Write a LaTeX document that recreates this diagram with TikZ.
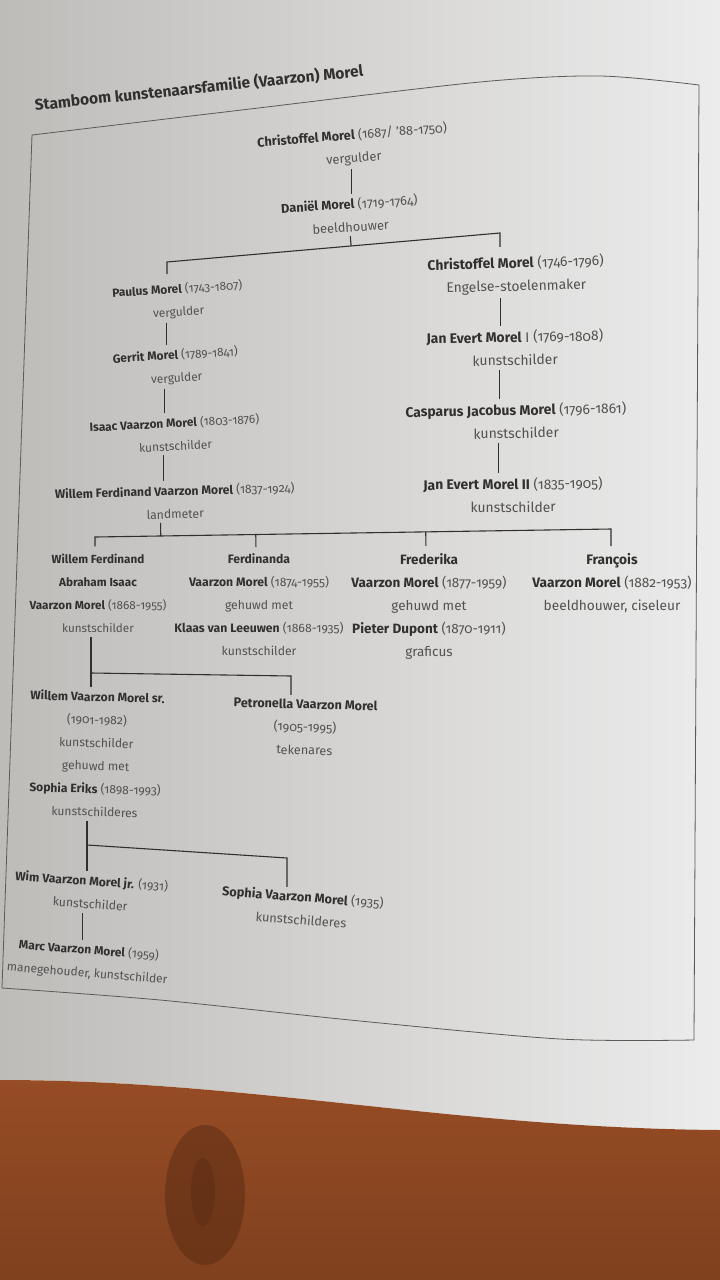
\documentclass[tikz,border=0pt]{standalone}
\usepackage{fontspec}
\setmainfont{Fira Sans}[Numbers=OldStyle]
\usetikzlibrary{calc}
\definecolor{pagegray}{RGB}{190,188,185}
\definecolor{pagemid}{RGB}{204,202,199}
\definecolor{pagewhite}{RGB}{236,236,236}
\definecolor{boxgray}{RGB}{92,90,88}
\definecolor{inkdark}{RGB}{50,48,46}
\definecolor{inkgray}{RGB}{84,82,80}
\definecolor{woodbrown}{RGB}{150,76,36}
\definecolor{wooddark}{RGB}{92,44,20}
\newcommand{\pname}[1]{{\color{inkdark}\bfseries #1}}
\tikzset{
  person/.style={align=center, text=inkgray, inner sep=4pt,
    font=\fontsize{#1}{23}\selectfont},
  person/.default=12.5,
  heading/.style={text=inkdark, inner sep=2pt, font=\fontsize{15.5}{18}\selectfont\bfseries},
  tree/.style={draw=inkdark, line width=1.1pt},
}

\begin{document}
\begin{tikzpicture}[x=1pt,y=-1pt]
  \useasboundingbox (0,0) rectangle (720,1280);
  % page, table
  \shade[left color=pagegray, middle color=pagemid, right color=pagewhite]
    (0,0) -- (720,0) -- (720,1130) .. controls (450,1128) and (250,1080) .. (0,1080) -- cycle;
  \shade[top color=woodbrown, bottom color=woodbrown!85!black]
    (0,1280) -- (0,1080) .. controls (250,1080) and (450,1128) .. (720,1130) -- (720,1280) -- cycle;
  \fill[wooddark, opacity=.55] (205,1195) ellipse [x radius=40, y radius=70];
  \fill[wooddark, opacity=.5] (203,1192) ellipse [x radius=12, y radius=34];
  \draw[boxgray, line width=.8pt]
    plot[smooth] coordinates {(32,135) (250,109) (480,82) (600,76) (699,85)}
    -- plot[smooth] coordinates {(694,1040) (560,1039) (360,1021) (160,1000) (2,988)} -- cycle;

  \node[heading, rotate=6] (title) at (199,88) {Stamboom kunstenaarsfamilie (Vaarzon) Morel};

  \node[person=12.8, rotate=4.5] (c1) at (353,147) {\pname{Christoffel Morel} (1687/ ’88-1750)\\vergulder};
  \node[person=12.8, rotate=3.5] (dan) at (350,215) {\pname{Daniël Morel} (1719-1764)\\beeldhouwer};
  \node[person=11.9, rotate=3.5] (paulus) at (178,301) {\pname{Paulus Morel} (1743-1807)\\vergulder};
  \node[person=11.9, rotate=3.5] (gerrit) at (176,367) {\pname{Gerrit Morel} (1789-1841)\\vergulder};
  \node[person=11.9, rotate=3] (isaac) at (175,434) {\pname{Isaac Vaarzon Morel} (1803-1876)\\kunstschilder};
  \node[person=12.2, rotate=1.5] (wfvm) at (175,502) {\pname{Willem Ferdinand Vaarzon Morel} (1837-1924)\\landmeter};
  \node[person=13.9, rotate=1.5] (chr2) at (516,275) {\pname{Christoffel Morel} (1746-1796)\\Engelse-stoelenmaker};
  \node[person=13.9, rotate=1] (jan1) at (515,348) {\pname{Jan Evert Morel} I (1769-1808)\\kunstschilder};
  \node[person=13.9, rotate=1] (cas) at (516,421) {\pname{Casparus Jacobus Morel} (1796-1861)\\kunstschilder};
  \node[person=13.9, rotate=.5] (jan2) at (513,495) {\pname{Jan Evert Morel II} (1835-1905)\\kunstschilder};

  \node[person=11.7] (wf1) at (98,593) {\pname{Willem Ferdinand}\\\pname{Abraham Isaac}\\\pname{Vaarzon Morel} (1868-1955)\\kunstschilder};
  \node[person=12.2] (ferdinanda) at (259,605) {\pname{Ferdinanda}\\\pname{Vaarzon Morel} (1874-1955)\\gehuwd met\\\pname{Klaas van Leeuwen} (1868-1935)\\kunstschilder};
  \node[person=13.5] (frederika) at (429,606) {\pname{Frederika}\\\pname{Vaarzon Morel} (1877-1959)\\gehuwd met\\\pname{Pieter Dupont} (1870-1911)\\graficus};
  \node[person=13.7] (francois) at (612,583) {\pname{François}\\\pname{Vaarzon Morel} (1882-1953)\\beeldhouwer, ciseleur};

  \node[person=12.1, rotate=-1.5] (wsr) at (96,754) {\pname{Willem Vaarzon Morel sr.}\\(1901-1982)\\kunstschilder\\gehuwd met\\\pname{Sophia Eriks} (1898-1993)\\kunstschilderes};
  \node[person=12.6, rotate=-1.5] (petronella) at (305,727) {\pname{Petronella Vaarzon Morel}\\(1905-1995)\\tekenares};
  \node[person=12.2, rotate=-4] (wim) at (91,892) {\pname{Wim Vaarzon Morel jr.} (1931)\\kunstschilder};
  \node[person=12.8, rotate=-4.5] (sophia) at (302,908) {\pname{Sophia Vaarzon Morel} (1935)\\kunstschilderes};
  \node[person=12, rotate=-4.5] (marc) at (88,962) {\pname{Marc Vaarzon Morel} (1959)\\manegehouder, kunstschilder};

  % lines of descent
  \foreach \a/\b/\s in {c1/dan/-3, paulus/gerrit/-13, gerrit/isaac/-13, isaac/wfvm/-13,
      chr2/jan1/-16, jan1/cas/-16, cas/jan2/-18, wim/marc/-7}
    \draw[tree] ([xshift=\s]\a.south) coordinate (t) -- (t |- \b.north);

  \coordinate (dL) at (167,262);
  \coordinate (dR) at (500,233);
  \draw[tree, shorten <=5pt, shorten >=5pt] (dL |- paulus.north) -- (dL) -- (dR) -- (dR |- chr2.north);
  \draw[tree] ([xshift=-1]dan.south) coordinate (t) -- ($(dL)!(t)!(dR)$);

  \coordinate (wL) at (95,537);
  \coordinate (wR) at (611,529);
  \draw[tree, shorten <=3pt, shorten >=3pt] (wL |- wf1.north) -- (wL) -- (wR) -- (wR |- francois.north);
  \draw[tree] ([xshift=-15]wfvm.south) coordinate (t) -- ($(wL)!(t)!(wR)$);
  \foreach \k in {ferdinanda, frederika}
    \draw[tree, shorten <=3pt] ([xshift=-3]\k.north) coordinate (t) -- ($(wL)!(t)!(wR)$);

  \coordinate (aL) at (91,673);
  \coordinate (aR) at (291,676);
  \draw[tree] (aL |- wf1.south) -- (aL |- wsr.north);
  \draw[tree] (aL) -- (aR) -- (aR |- petronella.north);

  \coordinate (bL) at (87,845);
  \coordinate (bR) at (287,858);
  \draw[tree] (bL |- wsr.south) -- (bL |- wim.north);
  \draw[tree] (bL) -- (bR) -- (bR |- sophia.north);
\end{tikzpicture}
\end{document}
